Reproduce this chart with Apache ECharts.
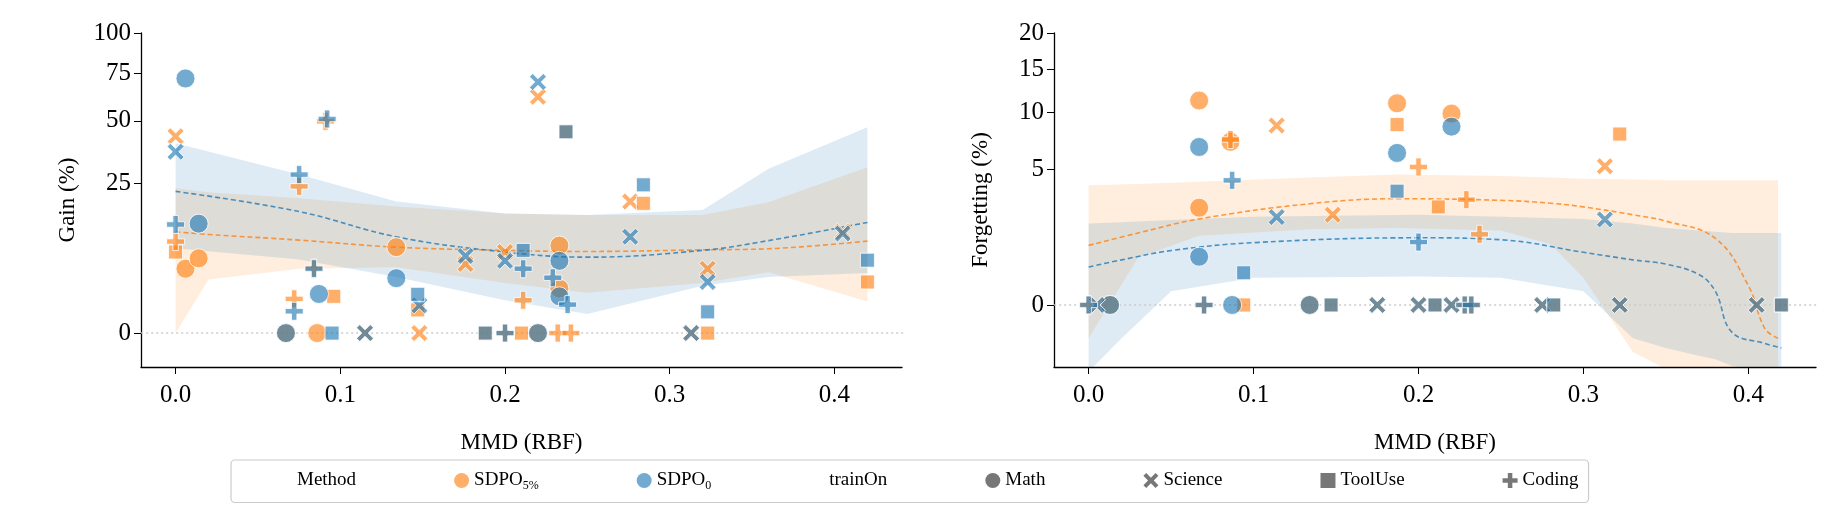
<!DOCTYPE html>
<html>
<head>
<meta charset="utf-8">
<script src="https://cdn.jsdelivr.net/npm/echarts@6/dist/echarts.min.js"></script>
<style>html,body{margin:0;padding:0;background:#fff}#main{width:1837px;height:527px}</style>
</head>
<body>
<div id="main"></div>
<script>
// ---- data (x = MMD, y in percent) ----
var gain5_math = [[0.006,4.6],[0.014,6.2],[0.134,8.2],[0.233,8.5],[0.233,2.2],[0.067,0],[0.086,0],[0.22,0]];
var gain5_sci = [[0,43],[0.176,5.3],[0.2,7.3],[0.22,62],[0.276,19.2],[0.323,4.6],[0.405,11.4],[0.148,0],[0.115,0],[0.313,0]];
var gain5_tool = [[0,7.3],[0.096,1.5],[0.147,0.6],[0.284,18.7],[0.237,45],[0.323,0],[0.42,2.9],[0.188,0],[0.21,0]];
var gain5_code = [[0,9.3],[0.075,23.9],[0.091,49.8],[0.084,4.7],[0.072,1.3],[0.211,1.2],[0.232,0],[0.24,0],[0.2,0]];
var gain0_math = [[0.006,72],[0.014,13.3],[0.087,1.7],[0.134,3.35],[0.233,5.8],[0.233,1.5],[0.067,0],[0.22,0]];
var gain0_sci = [[0,36.5],[0.148,0.85],[0.176,6.6],[0.2,5.8],[0.22,70],[0.276,10.3],[0.323,2.9],[0.405,11],[0.115,0],[0.313,0]];
var gain0_tool = [[0.147,1.67],[0.211,7.6],[0.237,45],[0.284,24.4],[0.323,0.5],[0.42,5.9],[0.095,0],[0.188,0]];
var gain0_code = [[0,13.1],[0.075,27.9],[0.092,50.9],[0.084,4.6],[0.072,0.53],[0.211,4.6],[0.229,3.4],[0.238,0.9],[0.2,0]];

var forg5_math = [[0.067,11.3],[0.067,2.56],[0.086,7.2],[0.187,11.0],[0.22,9.9],[0.013,0],[0.134,0]];
var forg5_sci = [[0.114,8.7],[0.148,2.2],[0.313,5.2],[0.005,0],[0.175,0],[0.2,0],[0.22,0],[0.275,0],[0.322,0],[0.405,0]];
var forg5_tool = [[0.187,8.8],[0.212,2.6],[0.322,7.9],[0.094,0],[0.147,0],[0.21,0],[0.282,0],[0.42,0]];
var forg5_code = [[0.086,7.4],[0.2,5.15],[0.229,3.0],[0.237,1.35],[0,0],[0.07,0],[0.228,0],[0.232,0]];
var forg0_math = [[0.067,6.75],[0.067,0.63],[0.187,6.25],[0.22,8.6],[0.013,0],[0.087,0],[0.134,0]];
var forg0_sci = [[0.114,2.09],[0.313,1.98],[0.005,0],[0.175,0],[0.2,0],[0.22,0],[0.275,0],[0.322,0],[0.405,0]];
var forg0_tool = [[0.094,0.28],[0.187,3.5],[0.147,0],[0.21,0],[0.282,0],[0.42,0]];
var forg0_code = [[0.087,4.2],[0.2,1.07],[0,0],[0.07,0],[0.228,0],[0.232,0]];

// fitted trend + confidence band: [x, fit, low, high]
var gainFit5 = [[0,11.4,0,23.3],[0.02,10.8,3.2,22],[0.075,9.6,4.6,20.2],[0.134,8.2,4.8,17.8],[0.2,7.6,2.8,15.9],[0.25,7.4,1.8,15.5],[0.32,7.7,2.8,15.5],[0.36,7.9,4.1,19],[0.42,9.4,1.1,30.5]];
var gainFit0 = [[0,22.3,8,40],[0.075,16.4,6,27.9],[0.134,10.3,3.5,19.2],[0.2,7.3,1.2,15.9],[0.25,6.4,0.4,15.5],[0.32,7.6,2.5,16.8],[0.36,9.5,3.5,30],[0.42,13.6,4,47]];
var forgFit5 = [[0,0.96,-0.3,3.87],[0.03,1.4,0.6,3.95],[0.067,2.0,1.3,4.1],[0.134,2.77,1.55,4.4],[0.187,3.05,1.6,4.6],[0.25,2.96,1.5,4.5],[0.28,2.8,1.0,4.4],[0.3,2.6,0.2,4.3],[0.33,2.2,-0.6,4.25],[0.35,1.9,-1.1,4.2],[0.38,1.2,-1.5,4.2],[0.4,0.1,-1.5,4.2],[0.41,-0.15,-1.5,4.2],[0.418,-0.3,-1.5,4.2]];
var forgFit0 = [[0,0.39,-1.2,1.8],[0.02,0.55,-0.3,1.85],[0.05,0.8,0.05,1.95],[0.1,1.05,0.2,2.1],[0.2,1.22,0.22,2.2],[0.25,1.15,0.2,2.1],[0.3,0.75,0.05,2.0],[0.33,0.55,-0.3,1.8],[0.35,0.45,-0.5,1.6],[0.37,0.25,-0.7,1.5],[0.38,0.05,-0.8,1.45],[0.39,-0.2,-1.0,1.4],[0.41,-0.4,-1.2,1.4],[0.42,-0.5,-1.3,1.4]];

var gainTicks = [0, 25, 50, 75, 100];
var forgTicks = [0, 5, 10, 15, 20];
var xTicks = [0, 0.1, 0.2, 0.3, 0.4];

// ---- styling ----
var ORANGE = 'rgba(255,127,14,0.78)';
var BLUE = 'rgba(31,119,180,0.78)';
var FONT = '"Liberation Serif", "DejaVu Serif", serif';
var SYM = {
    math: 'circle',
    sci: 'path://M-1,-0.62 L-0.62,-1 L0,-0.38 L0.62,-1 L1,-0.62 L0.38,0 L1,0.62 L0.62,1 L0,0.38 L-0.62,1 L-1,0.62 L-0.38,0 Z',
    tool: 'rect',
    code: 'path://M-0.3,-1 H0.3 V-0.3 H1 V0.3 H0.3 V1 H-0.3 V0.3 H-1 V-0.3 H-0.3 Z'
};
var SIZE = {math: 19, sci: 17, tool: 14, code: 18};

function f(v) { return v < 0 ? -Math.sqrt(-v) : Math.sqrt(v); }

function scatter(pts, kind, color, idx) {
    return {
        type: 'scatter', xAxisIndex: idx, yAxisIndex: idx, z: 5,
        symbol: SYM[kind], symbolSize: SIZE[kind],
        itemStyle: {color: color, borderColor: '#fff', borderWidth: 1},
        data: pts.map(function (p) { return [p[0], f(p[1])]; })
    };
}
function fitLine(fit, color, idx) {
    return {
        type: 'line', xAxisIndex: idx, yAxisIndex: idx, z: 3, smooth: 0.4,
        showSymbol: false, silent: true,
        lineStyle: {color: color, width: 1.6, type: [5, 3]},
        data: fit.map(function (p) { return [p[0], f(p[1])]; })
    };
}
function band(fit, color, idx) {
    return {
        type: 'custom', xAxisIndex: idx, yAxisIndex: idx, z: 1, silent: true, clip: true,
        data: [0],
        renderItem: function (params, api) {
            var pts = [];
            fit.forEach(function (p) { pts.push(api.coord([p[0], f(p[3])])); });
            fit.slice().reverse().forEach(function (p) { pts.push(api.coord([p[0], f(p[2])])); });
            return {type: 'polygon', shape: {points: pts}, style: {fill: color}};
        }
    };
}
function zeroLine(idx) {
    return {
        type: 'line', xAxisIndex: idx, yAxisIndex: idx, z: 2, silent: true, showSymbol: false,
        lineStyle: {color: '#cccccc', width: 1.5, type: [2, 3]},
        data: [[-0.03, 0], [0.45, 0]]
    };
}

function xAxisOpt(idx) {
    return {
        type: 'value', gridIndex: idx, min: -0.021, max: 0.441,
        name: 'MMD (RBF)', nameLocation: 'center', nameGap: 64,
        nameTextStyle: {fontFamily: FONT, fontSize: 23, color: '#000'},
        splitLine: {show: false},
        axisLine: {onZero: false, lineStyle: {color: '#000', width: 1.3}},
        axisTick: {length: 7, lineStyle: {color: '#000'}, customValues: xTicks},
        axisLabel: {fontFamily: FONT, fontSize: 25, color: '#000', margin: 16,
            customValues: xTicks, formatter: function (v) { return v.toFixed(1); }}
    };
}
function yAxisOpt(idx, name, ticks, min) {
    var tv = ticks.map(f);
    return {
        type: 'value', gridIndex: idx, min: min, max: f(ticks[ticks.length - 1]),
        name: name, nameLocation: 'center', nameGap: 62,
        nameTextStyle: {fontFamily: FONT, fontSize: 23, color: '#000'},
        splitLine: {show: false},
        axisLine: {onZero: false, lineStyle: {color: '#000', width: 1.3}},
        axisTick: {length: 7, lineStyle: {color: '#000'}, customValues: tv},
        axisLabel: {fontFamily: FONT, fontSize: 25, color: '#000', margin: 10,
            customValues: tv, formatter: function (v) { return String(Math.round(v * v)); }}
    };
}

var series = [
    band(gainFit5, 'rgba(255,127,14,0.14)', 0), band(gainFit0, 'rgba(31,119,180,0.15)', 0),
    band(forgFit5, 'rgba(255,127,14,0.14)', 1), band(forgFit0, 'rgba(31,119,180,0.15)', 1),
    zeroLine(0), zeroLine(1),
    fitLine(gainFit5, ORANGE, 0), fitLine(gainFit0, BLUE, 0),
    fitLine(forgFit5, ORANGE, 1), fitLine(forgFit0, BLUE, 1),
    scatter(gain5_math, 'math', ORANGE, 0), scatter(gain5_sci, 'sci', ORANGE, 0),
    scatter(gain5_tool, 'tool', ORANGE, 0), scatter(gain5_code, 'code', ORANGE, 0),
    scatter(gain0_math, 'math', BLUE, 0), scatter(gain0_sci, 'sci', BLUE, 0),
    scatter(gain0_tool, 'tool', BLUE, 0), scatter(gain0_code, 'code', BLUE, 0),
    scatter(forg5_math, 'math', ORANGE, 1), scatter(forg5_sci, 'sci', ORANGE, 1),
    scatter(forg5_tool, 'tool', ORANGE, 1), scatter(forg5_code, 'code', ORANGE, 1),
    scatter(forg0_math, 'math', BLUE, 1), scatter(forg0_sci, 'sci', BLUE, 1),
    scatter(forg0_tool, 'tool', BLUE, 1), scatter(forg0_code, 'code', BLUE, 1)
];

// legend-only series
var legendItems = [
    {name: 'Method', icon: 'none'},
    {name: 'SDPO5', icon: 'circle', itemStyle: {color: ORANGE}},
    {name: 'SDPO0', icon: 'circle', itemStyle: {color: BLUE}},
    {name: 'trainOn', icon: 'none'},
    {name: 'Math', icon: SYM.math, itemStyle: {color: '#555'}},
    {name: 'Science', icon: SYM.sci, itemStyle: {color: '#555'}},
    {name: 'ToolUse', icon: 'rect', itemStyle: {color: '#555'}},
    {name: 'Coding', icon: SYM.code, itemStyle: {color: '#555'}}
];
legendItems.forEach(function (it) {
    series.push({type: 'scatter', name: it.name, xAxisIndex: 0, yAxisIndex: 0, data: []});
});

var chart = echarts.init(document.getElementById('main'));
chart.setOption({
    animation: false,
    grid: [
        {left: 141, top: 33, width: 761, bottom: 160},
        {left: 1054, top: 33, width: 762, bottom: 160}
    ],
    xAxis: [xAxisOpt(0), xAxisOpt(1)],
    yAxis: [yAxisOpt(0, 'Gain (%)', gainTicks, -1.13), yAxisOpt(1, 'Forgetting (%)', forgTicks, -1.02)],
    legend: {
        left: 231, top: 460, width: 1460, selectedMode: false,
        itemWidth: 15, itemHeight: 15, itemGap: 98,
        padding: [11, 10, 11, 46],
        borderColor: '#cccccc', borderWidth: 1.2, borderRadius: 4,
        textStyle: {fontFamily: FONT, fontSize: 19, color: '#000',
            rich: {s: {fontFamily: FONT, fontSize: 12, padding: [10, 0, 0, 0]},
                   b: {fontFamily: FONT, fontSize: 19}}},
        formatter: function (n) {
            if (n === 'SDPO5') return '{b|SDPO}{s|5%}';
            if (n === 'SDPO0') return '{b|SDPO}{s|0}';
            return n;
        },
        data: legendItems
    },
    series: series
});
</script>
</body>
</html>
